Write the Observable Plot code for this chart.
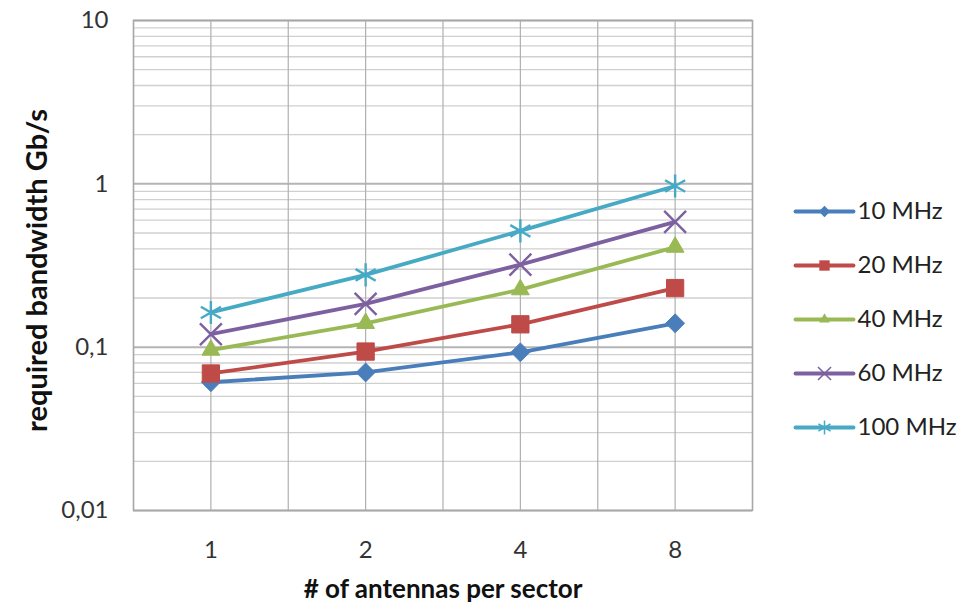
<!DOCTYPE html>
<html>
<head>
<meta charset="utf-8">
<script src="https://cdn.jsdelivr.net/npm/d3@7"></script>
<script src="https://cdn.jsdelivr.net/npm/@observablehq/plot@0.6"></script>
<style>
  html, body { margin: 0; padding: 0; background: #fff; }
  #wrap { position: relative; width: 975px; height: 611px; font-family: Lato, "Open Sans", sans-serif; }
  #wrap svg { overflow: visible; }
  #legend { position: absolute; left: 780px; top: 180px; }
</style>
</head>
<body>
<div id="wrap"><div id="main"></div><div id="legend"></div></div>
<script>
// ---- data ----
const categories = ["1", "2", "4", "8"];
const series = ["10 MHz", "20 MHz", "40 MHz", "60 MHz", "100 MHz"];
const v10MHz  = [0.061, 0.070, 0.093, 0.140];
const v20MHz  = [0.069, 0.094, 0.138, 0.230];
const v40MHz  = [0.096, 0.140, 0.225, 0.410];
const v60MHz  = [0.120, 0.184, 0.320, 0.585];
const v100MHz = [0.163, 0.277, 0.515, 0.970];
const yTicks = [0.01, 0.1, 1, 10];
const yTickLabels = ["0,01", "0,1", "1", "10"];
const xLabel = "# of antennas per sector";
const yLabel = "required bandwidth Gb/s";

// ---- styles ----
const colors = ["#4A7EBB", "#BE4B48", "#98B954", "#7D60A0", "#46AAC5"];
const symbols = ["diamond2", "square2", "triangle2", "times", "asterisk"];
const filled = [true, true, true, false, false];
const radii = [8.5, 11, 8.5, 10, 11];

const valuesBySeries = [v10MHz, v20MHz, v40MHz, v60MHz, v100MHz];
const rows = [];
series.forEach((s, si) => valuesBySeries[si].forEach((v, i) => rows.push({series: s, si, i, value: v})));

// gridlines derived from the log scale domain
const minorTicks = [];
for (const d of [0.01, 0.1, 1]) for (let m = 2; m <= 9; m++) minorTicks.push(+(m * d).toPrecision(3));
const xGrid = d3.range(-0.5, categories.length, 0.5);

const marks = [
  Plot.ruleY(minorTicks, {stroke: "#d0d0d0", strokeWidth: 1.3}),
  Plot.ruleY(yTicks, {stroke: "#b4b4b4", strokeWidth: 2}),
  Plot.ruleX(xGrid, {stroke: "#b0b0b0", strokeWidth: 1.2}),
  Plot.frame({stroke: "#a8a8a8", strokeWidth: 1.5}),
  Plot.axisY({ticks: yTicks, tickFormat: (d) => yTickLabels[yTicks.indexOf(d)], tickSize: 0, tickPadding: 25, fontSize: 24, label: null, color: "#333"}),
  Plot.axisX({ticks: d3.range(categories.length), tickFormat: (i) => categories[i], tickSize: 0, tickPadding: 30, fontSize: 24, label: null, color: "#333"}),
  Plot.text([xLabel], {frameAnchor: "bottom", dy: 87, fontSize: 26, fontWeight: "bold", fill: "#111"}),
  Plot.text([yLabel], {frameAnchor: "left", textAnchor: "middle", dx: -96, dy: 5, rotate: -90, fontSize: 29, fontWeight: "bold", fill: "#111"})
];
series.forEach((s, si) => {
  const data = rows.filter((r) => r.si === si);
  marks.push(Plot.line(data, {x: "i", y: "value", stroke: colors[si], strokeWidth: 3.8}));
});
series.forEach((s, si) => {
  const data = rows.filter((r) => r.si === si);
  marks.push(filled[si]
    ? Plot.dot(data, {x: "i", y: "value", symbol: symbols[si], r: radii[si], fill: colors[si], stroke: colors[si], strokeWidth: 1})
    : Plot.dot(data, {x: "i", y: "value", symbol: symbols[si], r: radii[si], stroke: colors[si], strokeWidth: 2.4}));
});

const chart = Plot.plot({
  width: 975,
  height: 611,
  marginLeft: 133,
  marginRight: 223,
  marginTop: 20,
  marginBottom: 101,
  style: {fontFamily: "Lato, 'Open Sans', sans-serif", background: "transparent"},
  x: {type: "linear", domain: [-0.5, categories.length - 0.5], axis: null},
  y: {type: "log", domain: [0.01, 10], axis: null},
  marks
});
document.getElementById("main").append(chart);

// ---- legend ----
const legendMarks = [];
series.forEach((s, si) => {
  legendMarks.push(Plot.line([{x: 0, s}, {x: 1, s}], {x: "x", y: "s", stroke: colors[si], strokeWidth: 3.8}));
  legendMarks.push(filled[si]
    ? Plot.dot([{x: 0.5, s}], {x: "x", y: "s", symbol: symbols[si], r: radii[si] * 0.6, fill: colors[si]})
    : Plot.dot([{x: 0.5, s}], {x: "x", y: "s", symbol: symbols[si], r: radii[si] * 0.6, stroke: colors[si], strokeWidth: 1.5}));
  legendMarks.push(Plot.text([{x: 1, s}], {x: "x", y: "s", text: "s", textAnchor: "start", dx: 4, fontSize: 24, fill: "#222"}));
});
const legend = Plot.plot({
  width: 195,
  height: 280,
  margin: 0,
  style: {fontFamily: "Lato, 'Open Sans', sans-serif", background: "transparent"},
  x: {type: "linear", domain: [0, 1], range: [15, 73], axis: null},
  y: {type: "point", domain: series, range: [29, 248], padding: 0, axis: null},
  marks: legendMarks
});
document.getElementById("legend").append(legend);
</script>
</body>
</html>
